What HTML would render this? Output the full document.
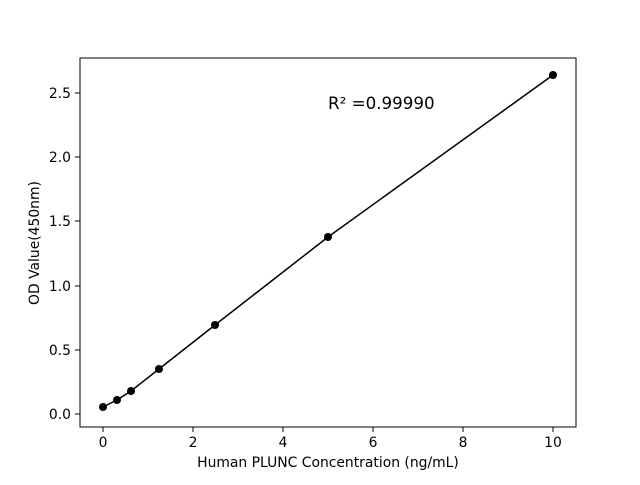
<!DOCTYPE html>
<html><head><meta charset="utf-8"><style>body{margin:0;background:#fff}</style></head><body>
<svg width="640" height="480" xmlns="http://www.w3.org/2000/svg" font-family="DejaVu Sans, sans-serif">
<rect width="640" height="480" fill="#fff"/>
<rect x="80" y="58" width="496" height="369" fill="none" stroke="#000" stroke-width="1"/>
<g stroke="#000" stroke-width="1">
<line x1="103" y1="427" x2="103" y2="432"/><line x1="193" y1="427" x2="193" y2="432"/><line x1="283" y1="427" x2="283" y2="432"/><line x1="373" y1="427" x2="373" y2="432"/><line x1="463" y1="427" x2="463" y2="432"/><line x1="553" y1="427" x2="553" y2="432"/>
<line x1="75" y1="414" x2="80" y2="414"/><line x1="75" y1="350" x2="80" y2="350"/><line x1="75" y1="286" x2="80" y2="286"/><line x1="75" y1="221" x2="80" y2="221"/><line x1="75" y1="157" x2="80" y2="157"/><line x1="75" y1="93" x2="80" y2="93"/>
</g>
<g font-size="13.9" fill="#000" text-anchor="middle">
<text x="103" y="447">0</text><text x="193" y="447">2</text><text x="283" y="447">4</text><text x="373" y="447">6</text><text x="463" y="447">8</text><text x="553" y="447">10</text>
</g>
<g font-size="13.9" fill="#000" text-anchor="end">
<text x="71" y="419">0.0</text><text x="71" y="355">0.5</text><text x="71" y="291">1.0</text><text x="71" y="226">1.5</text><text x="71" y="162">2.0</text><text x="71" y="98">2.5</text>
</g>
<text x="328" y="467" font-size="13.9" text-anchor="middle">Human PLUNC Concentration (ng/mL)</text>
<text transform="translate(39,243) rotate(-90)" font-size="13.9" text-anchor="middle">OD Value(450nm)</text>
<text x="328" y="109" font-size="16.7">R² =0.99990</text>
<polyline fill="none" stroke="#000" stroke-width="1.5" points="103,407 117,400 131,391 159,369 215,325 328,237 553,75"/>
<g fill="#000">
<circle cx="103" cy="407" r="4"/><circle cx="117" cy="400" r="4"/><circle cx="131" cy="391" r="4"/><circle cx="159" cy="369" r="4"/><circle cx="215" cy="325" r="4"/><circle cx="328" cy="237" r="4"/><circle cx="553" cy="75" r="4"/>
</g>
</svg>
</body></html>
